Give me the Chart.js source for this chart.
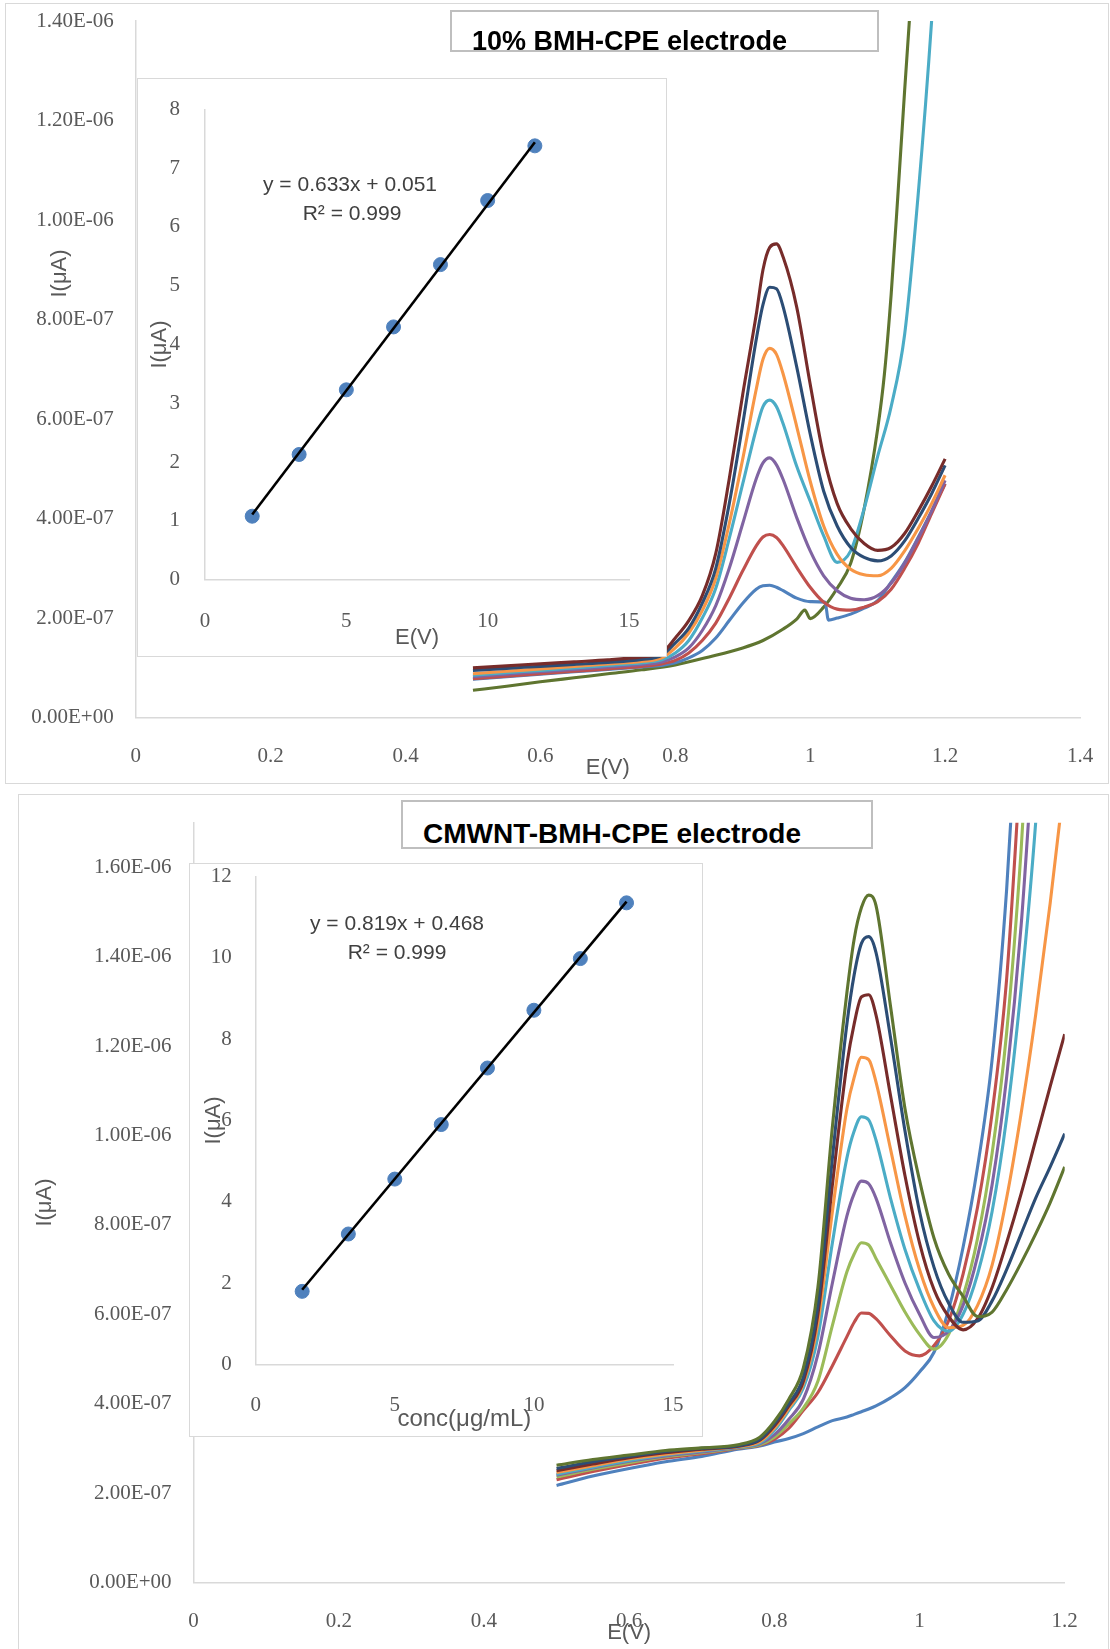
<!DOCTYPE html>
<html>
<head>
<meta charset="utf-8">
<script src="https://cdn.jsdelivr.net/npm/chart.js@4.4.0/dist/chart.umd.min.js"></script>
<style>
  body { margin: 0; background: #fff; }
  #page { position: relative; width: 1110px; height: 1649px; overflow: hidden; background: #fff; }
  #page canvas { position: absolute; display: block; }
  .panel { position: absolute; border: 1.5px solid #d9d9d9; box-sizing: border-box; }
  .inset { position: absolute; border: 1px solid #d9d9d9; background: #fff; }
  .tbox { position: absolute; border: 2px solid #bfbfbf; box-sizing: border-box; background: #fff; }
  .tbox span { position: absolute; white-space: nowrap; font-family: "Liberation Sans", Arial, sans-serif;
               font-weight: bold; color: #000; }
</style>
</head>
<body>
<div id="page">
  <div class="panel" style="left:5px;top:3px;width:1104px;height:781px"></div>
  <div class="panel" style="left:18px;top:794px;width:1091px;height:870px"></div>

  <canvas id="topMain" width="1110" height="784" style="left:0;top:0"></canvas>
  <canvas id="botMain" width="1110" height="855" style="left:0;top:794px"></canvas>

  <div class="inset" style="left:137px;top:78px;width:528px;height:577px">
    <canvas id="topInset" width="528" height="577" style="left:0;top:0"></canvas>
  </div>
  <div class="inset" style="left:189px;top:863px;width:512px;height:572px">
    <canvas id="botInset" width="512" height="572" style="left:0;top:0"></canvas>
  </div>

  <div class="tbox" style="left:450px;top:10px;width:429px;height:42px">
    <span style="left:20px;top:16px;font-size:27px;line-height:27px">10% BMH-CPE electrode</span>
  </div>
  <div class="tbox" style="left:401px;top:800px;width:472px;height:49px">
    <span style="left:20px;top:18px;font-size:28px;line-height:28px">CMWNT-BMH-CPE electrode</span>
  </div>
</div>

<script>
// ---------- 10% BMH-CPE electrode (currents in 1e-7 A) ----------
const potTop = [0.50, 0.55, 0.60, 0.65, 0.70, 0.75, 0.78, 0.80, 0.82, 0.84, 0.86, 0.88, 0.90, 0.92, 0.93,
                0.94, 0.95, 0.96, 0.98, 1.00, 1.02, 1.04, 1.06, 1.08, 1.10, 1.12, 1.14, 1.16, 1.18, 1.20];
const topRed      = [0.78, 0.83, 0.88, 0.93, 0.98, 1.03, 1.08, 1.15, 1.30, 1.55, 1.90, 2.40, 2.95, 3.45, 3.63,
                     3.68, 3.62, 3.45, 3.02, 2.62, 2.32, 2.18, 2.16, 2.22, 2.33, 2.58, 3.00, 3.50, 4.10, 4.70];
const topPurple   = [0.82, 0.87, 0.92, 0.97, 1.02, 1.07, 1.12, 1.22, 1.40, 1.75, 2.25, 3.00, 3.90, 4.80, 5.12,
                     5.22, 5.08, 4.78, 4.02, 3.35, 2.85, 2.55, 2.40, 2.37, 2.45, 2.70, 3.10, 3.60, 4.15, 4.77];
const topAqua     = [0.85, 0.90, 0.95, 1.00, 1.05, 1.10, 1.16, 1.30, 1.55, 2.00, 2.60, 3.60, 4.70, 5.80, 6.25,
                     6.38, 6.25, 5.90, 5.05, 4.35, 3.65, 3.12, 3.35, 4.20, 5.25, 6.25, 7.70, 10.50, 14.00, 18.50];
const topOrange   = [0.88, 0.93, 0.98, 1.03, 1.08, 1.13, 1.20, 1.40, 1.70, 2.15, 2.80, 3.90, 5.20, 6.60, 7.20,
                     7.42, 7.30, 6.90, 5.85, 4.75, 3.85, 3.28, 2.98, 2.87, 2.85, 3.00, 3.35, 3.80, 4.30, 4.87];
const topDarkBlue = [0.95, 0.99, 1.03, 1.07, 1.11, 1.17, 1.25, 1.50, 1.80, 2.30, 3.00, 4.30, 5.90, 7.60, 8.30,
                     8.65, 8.62, 8.25, 7.05, 5.70, 4.55, 3.85, 3.42, 3.22, 3.15, 3.25, 3.55, 4.00, 4.50, 5.07];
const topDarkRed  = [1.00, 1.04, 1.08, 1.12, 1.16, 1.22, 1.30, 1.60, 1.95, 2.45, 3.30, 4.80, 6.50, 8.10, 9.00,
                     9.45, 9.52, 9.25, 8.25, 6.70, 5.25, 4.30, 3.80, 3.50, 3.36, 3.42, 3.70, 4.15, 4.65, 5.20];
// blue trace has its own potentials (sharp drop near 1.025 V)
const topBlueE = [0.50, 0.55, 0.60, 0.65, 0.70, 0.75, 0.78, 0.80, 0.82, 0.84, 0.86, 0.88, 0.90, 0.92, 0.93, 0.94,
                  0.95, 0.96, 0.98, 1.00, 1.022, 1.027, 1.04, 1.06, 1.08, 1.10, 1.12, 1.14, 1.16, 1.18, 1.20];
const topBlue  = [0.77, 0.82, 0.87, 0.92, 0.97, 1.02, 1.05, 1.10, 1.20, 1.35, 1.60, 1.95, 2.30, 2.58, 2.65, 2.66,
                  2.62, 2.55, 2.40, 2.33, 2.32, 1.96, 2.00, 2.08, 2.20, 2.35, 2.72, 3.12, 3.62, 4.15, 4.70];
// blank (olive) trace
const topGreenE = [0.50, 0.55, 0.60, 0.65, 0.70, 0.75, 0.80, 0.85, 0.90, 0.93, 0.96, 0.98, 0.992, 1.00, 1.02,
                   1.04, 1.06, 1.08, 1.10, 1.11, 1.12, 1.13, 1.14, 1.15, 1.16];
const topGreen  = [0.55, 0.63, 0.72, 0.80, 0.88, 0.96, 1.06, 1.22, 1.40, 1.55, 1.78, 1.98, 2.16, 1.99, 2.22,
                   2.60, 3.10, 4.20, 5.80, 6.90, 8.50, 10.50, 12.60, 14.60, 16.50];

const insetTopConc    = [1.67, 3.33, 5.00, 6.67, 8.33, 10.00, 11.67];
const insetTopCurrent = [1.08, 2.13, 3.23, 4.30, 5.36, 6.45, 7.38];
const insetTopFitX    = [1.67, 11.67];
const insetTopFitY    = [1.11, 7.44];

// ---------- CMWNT-BMH-CPE electrode (currents in 1e-7 A) ----------
const potBot = [0.50, 0.55, 0.60, 0.65, 0.70, 0.75, 0.78, 0.80, 0.82, 0.84, 0.86, 0.88, 0.90, 0.91, 0.92,
                0.93, 0.94, 0.96, 0.98, 1.00, 1.02, 1.04, 1.06, 1.08, 1.10, 1.12, 1.14, 1.16, 1.18, 1.20];
const botBlue     = [2.17, 2.38, 2.55, 2.70, 2.82, 2.98, 3.05, 3.14, 3.22, 3.33, 3.48, 3.62, 3.70, 3.76, 3.82,
                     3.88, 3.95, 4.13, 4.36, 4.71, 5.15, 6.10, 7.50, 9.30, 11.70, 15.50, 21.00, null, null, null];
const botRed      = [2.30, 2.48, 2.64, 2.78, 2.88, 3.00, 3.07, 3.20, 3.45, 3.85, 4.25, 4.85, 5.50, 5.82, 6.03,
                     6.02, 5.90, 5.52, 5.18, 5.07, 5.30, 5.85, 6.90, 8.40, 10.50, 13.50, 18.50, null, null, null];
const botGreen    = [2.36, 2.53, 2.68, 2.81, 2.90, 3.01, 3.08, 3.25, 3.55, 3.90, 4.50, 5.75, 6.95, 7.35, 7.60,
                     7.55, 7.25, 6.65, 6.05, 5.55, 5.22, 5.55, 6.40, 7.70, 9.60, 12.30, 16.40, 22.00, null, null];
const botPurple   = [2.40, 2.56, 2.71, 2.83, 2.92, 3.02, 3.10, 3.30, 3.65, 4.10, 5.10, 6.70, 8.20, 8.70, 8.98,
                     8.92, 8.60, 7.60, 6.70, 6.00, 5.48, 5.62, 6.20, 7.30, 8.90, 11.30, 14.70, 19.50, null, null];
const botAqua     = [2.42, 2.58, 2.73, 2.85, 2.94, 3.03, 3.12, 3.40, 3.85, 4.35, 5.50, 7.60, 9.50, 10.10, 10.42,
                     10.35, 9.90, 8.60, 7.45, 6.55, 5.85, 5.62, 6.00, 6.90, 8.30, 10.40, 13.30, 17.00, 22.00, null];
const botOrange   = [2.46, 2.61, 2.76, 2.87, 2.96, 3.04, 3.15, 3.45, 3.90, 4.45, 5.80, 8.30, 10.60, 11.30, 11.75,
                     11.70, 11.20, 9.70, 8.20, 7.00, 6.15, 5.70, 5.75, 6.20, 7.10, 8.60, 10.50, 12.70, 15.20, 18.00];
const botDarkRed  = [2.50, 2.65, 2.79, 2.90, 2.98, 3.05, 3.18, 3.50, 3.95, 4.50, 6.00, 8.90, 11.60, 12.50, 13.10,
                     13.15, 12.70, 10.90, 9.10, 7.60, 6.55, 5.95, 5.65, 5.90, 6.60, 7.60, 8.70, 9.90, 11.10, 12.27];
const botDarkBlue = [2.55, 2.70, 2.82, 2.93, 3.00, 3.06, 3.20, 3.55, 4.00, 4.60, 6.20, 9.50, 12.50, 13.60, 14.30,
                     14.45, 14.10, 12.20, 10.10, 8.30, 7.05, 6.25, 5.82, 5.85, 6.30, 7.00, 7.80, 8.60, 9.30, 10.04];
const botOlive    = [2.62, 2.75, 2.85, 2.95, 3.01, 3.08, 3.25, 3.60, 4.10, 4.80, 6.60, 10.20, 13.20, 14.40, 15.10,
                     15.38, 15.15, 12.90, 10.60, 9.00, 7.70, 6.90, 6.40, 5.95, 6.05, 6.55, 7.15, 7.80, 8.50, 9.30];

const insetBotConc    = [1.67, 3.33, 5.00, 6.67, 8.33, 10.00, 11.67, 13.33];
const insetBotCurrent = [1.80, 3.21, 4.56, 5.90, 7.29, 8.71, 9.98, 11.35];
const insetBotFitX    = [1.67, 13.33];
const insetBotFitY    = [1.84, 11.38];

// ---------- styling ----------
const SERIF = '"Liberation Serif", "Times New Roman", serif';
const SANS = '"Liberation Sans", Arial, sans-serif';
const TICK = '#595959';
const AXIS = '#d9d9d9';
const C = {
  blue: '#4F81BD', red: '#C0504D', green: '#9BBB59', purple: '#8064A2', aqua: '#4BACC6',
  orange: '#F79646', darkBlue: '#2C4D75', darkRed: '#772C2A', olive: '#5F7530'
};

function pts(xs, ys, k) {
  const out = [];
  xs.forEach((x, i) => {
    if (ys[i] !== null && ys[i] !== undefined) out.push({ x: x, y: ys[i] * k });
  });
  return out;
}

function curve(label, xs, ys, color, order) {
  return {
    label: label,
    data: pts(xs, ys, 1e-7),
    borderColor: color,
    backgroundColor: color,
    borderWidth: 3.1,
    pointRadius: 0,
    fill: false,
    cubicInterpolationMode: 'monotone',
    order: order
  };
}

// force axis box size so the plot area lands where the reference has it
function fixAxis(size) {
  return function (scale) {
    if (scale.isHorizontal()) scale.height = size; else scale.width = size;
    scale.paddingLeft = 0; scale.paddingRight = 0; scale.paddingTop = 0; scale.paddingBottom = 0;
  };
}

function sci(v) {
  const parts = Number(v).toExponential(2).split('e');
  const n = parseInt(parts[1], 10);
  return parts[0] + 'E' + (n < 0 ? '-' : '+') + String(Math.abs(n)).padStart(2, '0');
}

function textPlugin(items) {
  return {
    id: 'freeText',
    afterDraw(chart) {
      const ctx = chart.ctx;
      items.forEach(t => {
        ctx.save();
        ctx.font = t.font;
        ctx.fillStyle = t.color;
        ctx.textAlign = 'center';
        ctx.textBaseline = 'middle';
        ctx.translate(t.x, t.y);
        if (t.rotate) ctx.rotate(t.rotate);
        ctx.fillText(t.text, 0, 0);
        ctx.restore();
      });
    }
  };
}

function mainOptions(o) {
  return {
    responsive: false,
    animation: false,
    layout: { autoPadding: false, padding: o.padding },
    plugins: { legend: { display: false }, tooltip: { enabled: false } },
    scales: {
      x: {
        type: 'linear', min: 0, max: o.xMax,
        grid: { display: false, drawTicks: false },
        border: { display: true, color: AXIS, width: 1.5 },
        ticks: {
          stepSize: 0.2, padding: 26.3, autoSkip: false, maxRotation: 0,
          color: TICK, font: { family: SERIF, size: 21 },
          callback: v => String(Math.round(v * 10) / 10)
        },
        title: { display: true, text: 'E(V)', color: TICK, font: { family: SANS, size: 22 }, padding: { top: 0, bottom: 2.8 } },
        afterFit: fixAxis(o.xHeight)
      },
      y: {
        type: 'linear', min: 0, max: o.yMax,
        grid: { display: false, drawTicks: false },
        border: { display: true, color: AXIS, width: 1.5 },
        ticks: {
          stepSize: 2e-7, includeBounds: false, padding: 22, autoSkip: false,
          color: TICK, font: { family: SERIF, size: 21 },
          callback: v => sci(v)
        },
        title: { display: o.yTitle, text: 'I(μA)', color: TICK, font: { family: SANS, size: 22 }, padding: { top: 31.8, bottom: 0 } },
        afterFit: fixAxis(o.yWidth)
      }
    }
  };
}

function insetConfig(o) {
  return {
    type: 'scatter',
    data: {
      datasets: [
        {
          label: 'fit', data: pts(o.fitX, o.fitY, 1), showLine: true,
          borderColor: '#000', borderWidth: 2.6, pointRadius: 0, order: 0
        },
        {
          label: 'peak current', data: pts(o.conc, o.current, 1), showLine: false,
          backgroundColor: C.blue, borderColor: C.blue, pointRadius: 7, order: 1
        }
      ]
    },
    options: {
      responsive: false,
      animation: false,
      layout: { autoPadding: false, padding: o.padding },
      plugins: { legend: { display: false }, tooltip: { enabled: false } },
      scales: {
        x: {
          type: 'linear', min: 0, max: 15,
          grid: { display: false, drawTicks: false },
          border: { display: true, color: AXIS, width: 1.5 },
          ticks: { stepSize: 5, padding: o.xTickPad, autoSkip: false, maxRotation: 0, color: TICK, font: { family: SERIF, size: 21 } },
          title: { display: true, text: o.xTitle, color: TICK, font: { family: SANS, size: o.xTitleSize }, padding: { top: 0, bottom: o.xTitlePad } },
          afterFit: fixAxis(o.xHeight)
        },
        y: {
          type: 'linear', min: 0, max: o.yMax,
          grid: { display: false, drawTicks: false },
          border: { display: true, color: AXIS, width: 1.5 },
          ticks: { stepSize: o.yStep, padding: o.yTickPad, autoSkip: false, color: TICK, font: { family: SERIF, size: 21 } },
          title: { display: true, text: 'I(μA)', color: TICK, font: { family: SANS, size: 22 }, padding: { top: o.yTitlePad, bottom: 0 } },
          afterFit: fixAxis(o.yWidth)
        }
      }
    },
    plugins: [textPlugin(o.labels)]
  };
}

// ---------- top main chart ----------
new Chart(document.getElementById('topMain').getContext('2d'), {
  type: 'line',
  data: {
    datasets: [
      curve('blank', topGreenE, topGreen, C.olive, 8),
      curve('1', topBlueE, topBlue, C.blue, 7),
      curve('2', potTop, topRed, C.red, 6),
      curve('3', potTop, topPurple, C.purple, 5),
      curve('4', potTop, topAqua, C.aqua, 4),
      curve('5', potTop, topOrange, C.orange, 3),
      curve('6', potTop, topDarkBlue, C.darkBlue, 2),
      curve('7', potTop, topDarkRed, C.darkRed, 1)
    ]
  },
  options: mainOptions({
    padding: { left: 0, right: 30, top: 21, bottom: 0 },
    xMax: 1.4, yMax: 1.4e-6, xHeight: 66.4, yWidth: 135.7, yTitle: false
  }),
  plugins: [textPlugin([
    { text: 'I(μA)', x: 60, y: 273.5, rotate: -Math.PI / 2, font: '22px ' + SANS, color: TICK }
  ])]
});

// ---------- bottom main chart ----------
new Chart(document.getElementById('botMain').getContext('2d'), {
  type: 'line',
  data: {
    datasets: [
      curve('blank', potBot, botBlue, C.blue, 9),
      curve('1', potBot, botRed, C.red, 8),
      curve('2', potBot, botGreen, C.green, 7),
      curve('3', potBot, botPurple, C.purple, 6),
      curve('4', potBot, botAqua, C.aqua, 5),
      curve('5', potBot, botOrange, C.orange, 4),
      curve('6', potBot, botDarkRed, C.darkRed, 3),
      curve('7', potBot, botDarkBlue, C.darkBlue, 2),
      curve('8', potBot, botOlive, C.olive, 1)
    ]
  },
  options: mainOptions({
    padding: { left: 0, right: 45.3, top: 28.7, bottom: 0 },
    xMax: 1.2, yMax: 1.7e-6, xHeight: 66.6, yWidth: 193.6, yTitle: true
  })
});

// ---------- calibration insets ----------
new Chart(document.getElementById('topInset').getContext('2d'), insetConfig({
  conc: insetTopConc, current: insetTopCurrent, fitX: insetTopFitX, fitY: insetTopFitY,
  padding: { left: 0, right: 37, top: 30.4, bottom: 0 },
  xHeight: 76.3, yWidth: 67, yMax: 8, yStep: 1,
  xTickPad: 29, yTickPad: 25,
  xTitle: 'E(V)', xTitleSize: 22, xTitlePad: 5.3, yTitlePad: 8.8,
  labels: [
    { text: 'y = 0.633x + 0.051', x: 212, y: 106, font: '21px ' + SANS, color: '#404040' },
    { text: 'R² = 0.999', x: 214, y: 135, font: '21px ' + SANS, color: '#404040' }
  ]
}));

new Chart(document.getElementById('botInset').getContext('2d'), insetConfig({
  conc: insetBotConc, current: insetBotCurrent, fitX: insetBotFitX, fitY: insetBotFitY,
  padding: { left: 0, right: 29, top: 12.4, bottom: 0 },
  xHeight: 71.4, yWidth: 65.7, yMax: 12, yStep: 2,
  xTickPad: 27.9, yTickPad: 24,
  xTitle: 'conc(μg/mL)', xTitleSize: 24, xTitlePad: 2.6, yTitlePad: 10.4,
  labels: [
    { text: 'y = 0.819x + 0.468', x: 207, y: 60, font: '21px ' + SANS, color: '#404040' },
    { text: 'R² = 0.999', x: 207, y: 89, font: '21px ' + SANS, color: '#404040' }
  ]
}));
</script>
</body>
</html>
